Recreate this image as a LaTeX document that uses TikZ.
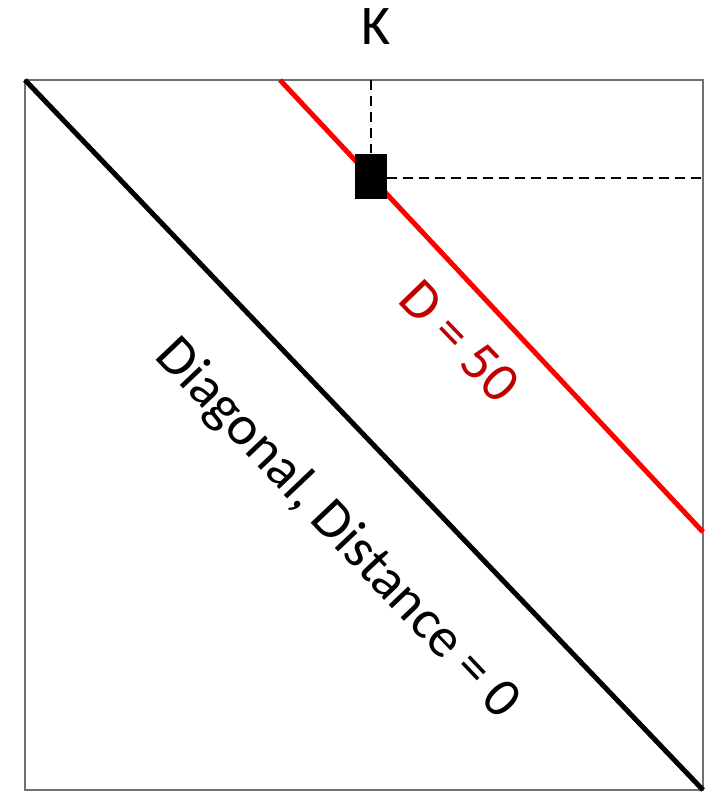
\documentclass[tikz,border=0pt]{standalone}
\usepackage{fontspec}
\setmainfont{Carlito}
\definecolor{darkred}{HTML}{C00000}
\definecolor{framegray}{HTML}{707070}
\tikzset{
  frameline/.style={draw=framegray, line width=2.2pt},
  diagline/.style={draw=black, line width=5pt},
  redline/.style={draw=red, line width=5pt},
  guide/.style={draw=black, line width=1.8pt, dash pattern=on 10pt off 6pt},
  marker/.style={fill=black, draw=none, minimum width=32pt, minimum height=45pt, inner sep=0pt},
  lbl/.style={font=\fontsize{56}{60}\selectfont, inner sep=0pt}
}
\begin{document}
\begin{tikzpicture}[x=1pt,y=-1pt]
\useasboundingbox (0,0) rectangle (709,792);
\fill[white] (0,0) rectangle (709,792);
\coordinate (tl) at (25,80);
\coordinate (tr) at (703,80);
\coordinate (bl) at (25,790);
\coordinate (br) at (703,790);
\coordinate (rtop) at (280,80);
\coordinate (rright) at (703,532);
\coordinate (ktop) at (371,80);
\coordinate (hend) at (703,178);
\draw[frameline] (tl) -- (tr) -- (br) -- (bl) -- cycle;
\draw[redline] (rtop) -- (rright);
\draw[diagline] (tl) -- (br);
\node[marker] (box) at (371,176) {};
\draw[guide] (ktop) -- (box.north);
\draw[guide] (box.east |- hend) -- (hend);
\node[lbl, anchor=base] (k) at (376,45) {K};
\node[lbl, text=darkred, rotate=-46] (d50) at (460,341) {D = 50};
\node[lbl, rotate=-46.5] (diag) at (337,529) {Diagonal, Distance = 0};
\end{tikzpicture}
\end{document}
